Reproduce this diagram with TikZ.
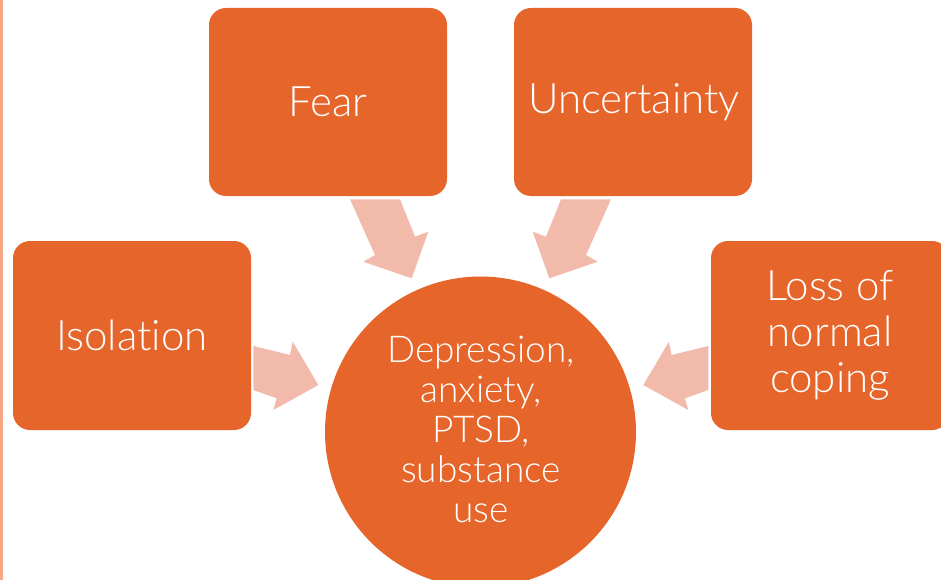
\documentclass[tikz,border=0pt]{standalone}
\usepackage{fontspec}
\setmainfont{Lato Light}[Ligatures={NoCommon}]
\definecolor{boxorange}{HTML}{E6652A}
\definecolor{arrowpink}{HTML}{F2BAAB}
\definecolor{edgeline}{HTML}{F4A886}
\tikzset{
  causetext/.style={text=white, font=\fontsize{42}{46}\selectfont, align=center, inner sep=0pt},
  causebox/.style={fill=boxorange, rounded corners=17pt},
  blockarrow/.style={fill=arrowpink, draw=none},
}
\begin{document}
\begin{tikzpicture}[x=1pt,y=-1pt]
\useasboundingbox (0,0) rectangle (941,580);
\fill[white] (0,0) rectangle (941,580);
\fill[edgeline] (0,0) rectangle (3,580);
% boxes
\fill[causebox] (209,8) rectangle (447,196);
\fill[causebox] (514,8) rectangle (752,196);
\fill[causebox] (13,241) rectangle (251,430);
\fill[causebox] (711,241) rectangle (949,430);
\node[causetext] (fear) at (328,102) {Fear};
\node[causetext] (unc) at (634,102) {Uncertainty};
\node[causetext] (iso) at (132,335) {Isolation};
\node[causetext] (loss) at (830,335) {Loss of\\normal\\coping};
% arrows
\fill[blockarrow] (350,199.3) -- (375,255) -- (363.3,261.7) -- (411.7,278.3) -- (428.3,231.7) -- (415,236.7) -- (400,199.3) -- cycle;
\fill[blockarrow] (611,199.3) -- (586,255) -- (597.7,261.7) -- (549.3,278.3) -- (532.7,231.7) -- (546,236.7) -- (561,199.3) -- cycle;
\fill[blockarrow] (253.3,346) -- (290,355) -- (292.7,341.7) -- (318.3,385) -- (273.3,410) -- (276.7,398.3) -- (253.3,390) -- cycle;
\fill[blockarrow] (708.3,346) -- (671.6,355) -- (668.9,341.7) -- (643.3,385) -- (688.3,410) -- (684.9,398.3) -- (708.3,390) -- cycle;
% centre
\fill[boxorange] (480.5,432) circle (155.5);
\node[causetext, font=\fontsize{37}{40}\selectfont] (centre) at (481,429) {Depression,\\anxiety,\\PTSD,\\substance\\use};
\end{tikzpicture}
\end{document}
